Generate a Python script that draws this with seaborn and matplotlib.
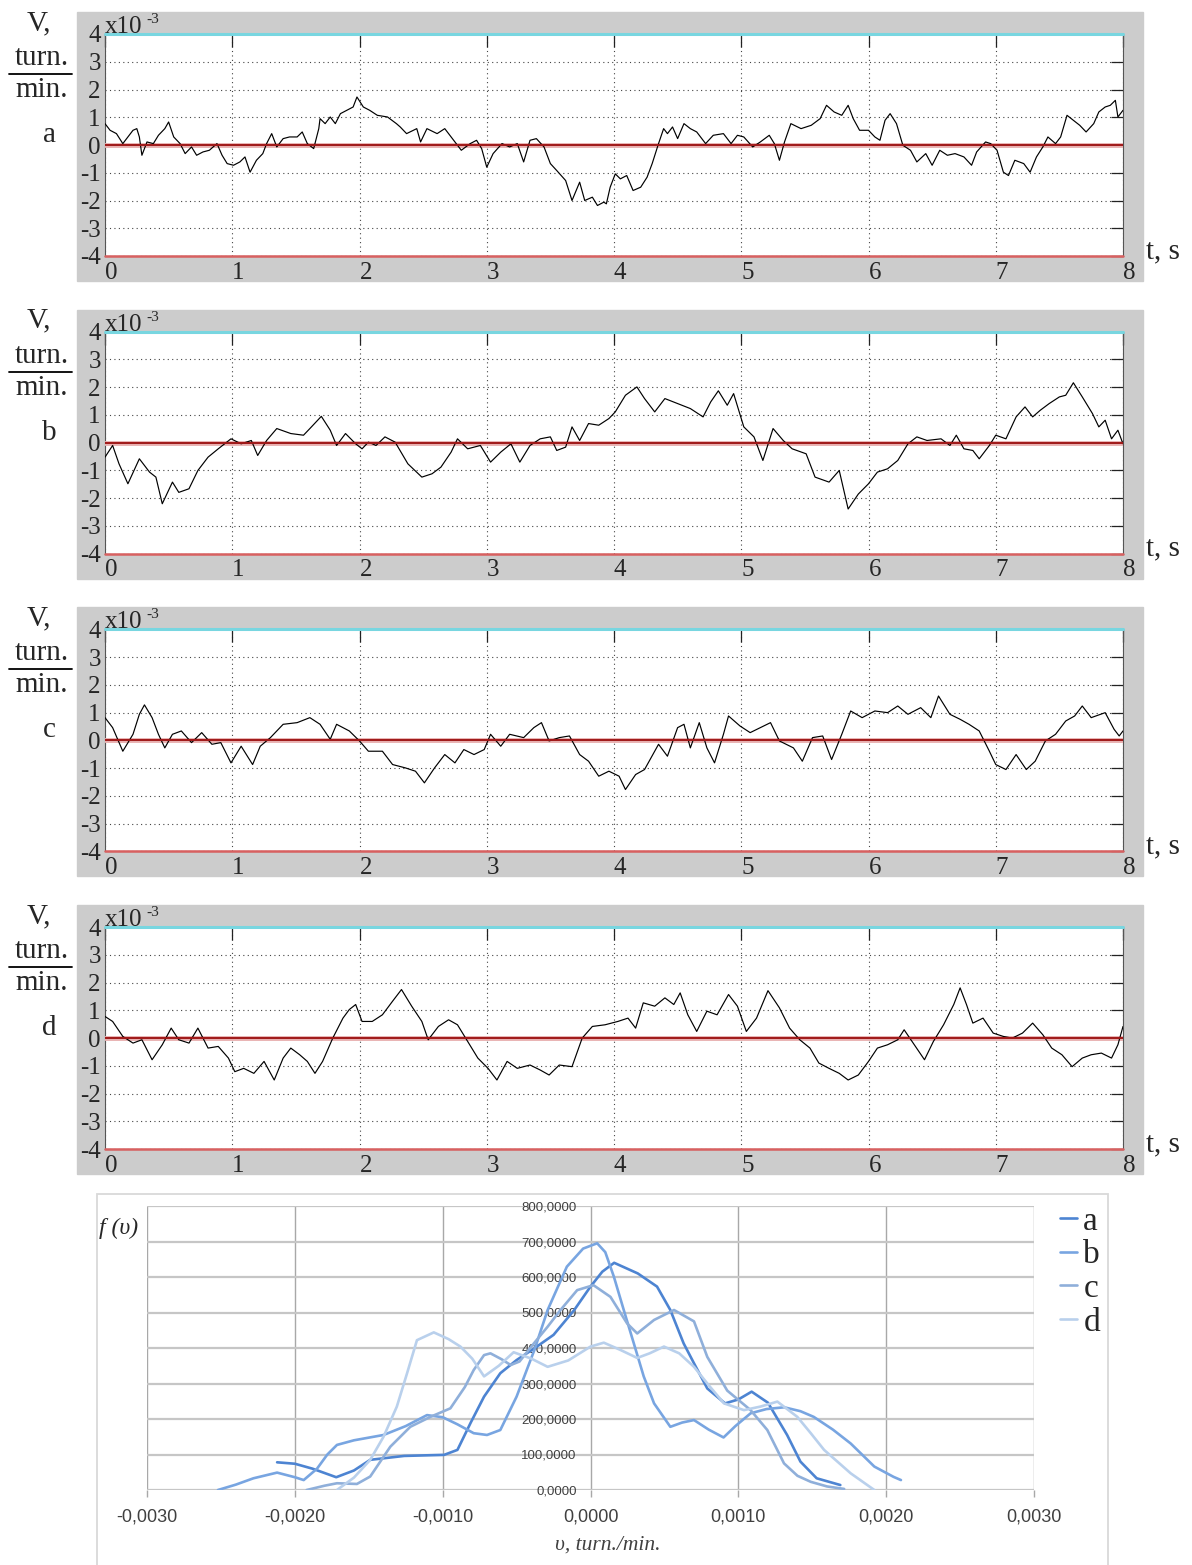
import numpy as np
import matplotlib
matplotlib.use("Agg")
import matplotlib.pyplot as plt
from matplotlib.lines import Line2D
from matplotlib.patches import Rectangle
from matplotlib.ticker import FuncFormatter
import seaborn as sns

# -------------------------
# Data
# -------------------------
# speed traces V(t), units of 1e-3 turn./min., t in s
trace_a = [(0.00, 0.77), (0.04, 0.53), (0.09, 0.41), (0.14, 0.05), (0.18, 0.29), (0.22, 0.53), (0.25, 0.59),
           (0.27, 0.29), (0.29, -0.37), (0.33, 0.11), (0.38, 0.05), (0.42, 0.35), (0.47, 0.59), (0.50, 0.83),
           (0.54, 0.29), (0.59, 0.05), (0.63, -0.31), (0.68, -0.07), (0.72, -0.37), (0.77, -0.25), (0.82, -0.19),
           (0.88, 0.05), (0.92, -0.37), (0.96, -0.67), (1.01, -0.73), (1.06, -0.61), (1.10, -0.43), (1.14, -0.98),
           (1.19, -0.55), (1.24, -0.31), (1.27, 0.05), (1.31, 0.41), (1.35, -0.07), (1.40, 0.23), (1.45, 0.29),
           (1.51, 0.29), (1.55, 0.47), (1.59, 0.05), (1.64, -0.13), (1.68, 0.59), (1.69, 0.95), (1.73, 0.77),
           (1.77, 1.01), (1.81, 0.77), (1.85, 1.13), (1.90, 1.25), (1.95, 1.37), (1.98, 1.73), (2.03, 1.37),
           (2.08, 1.25), (2.14, 1.07), (2.22, 1.01), (2.29, 0.77), (2.32, 0.65), (2.37, 0.41), (2.45, 0.59),
           (2.48, 0.11), (2.53, 0.59), (2.61, 0.41), (2.67, 0.59), (2.72, 0.29), (2.80, -0.19), (2.87, 0.05),
           (2.92, 0.17), (2.96, -0.13), (3.00, -0.80), (3.05, -0.31), (3.12, 0.05), (3.18, -0.07), (3.24, 0.05),
           (3.29, -0.61), (3.34, 0.17), (3.39, 0.23), (3.45, -0.07), (3.50, -0.67), (3.55, -0.92), (3.62, -1.28),
           (3.67, -2.00), (3.73, -1.34), (3.77, -2.00), (3.83, -1.88), (3.87, -2.18), (3.92, -2.06), (3.94, -2.12),
           (3.97, -1.52), (4.01, -1.04), (4.05, -1.22), (4.10, -1.10), (4.15, -1.64), (4.21, -1.52), (4.26, -1.16),
           (4.30, -0.67), (4.35, 0.05), (4.39, 0.59), (4.42, 0.41), (4.46, 0.65), (4.50, 0.23), (4.55, 0.77),
           (4.60, 0.59), (4.65, 0.47), (4.72, 0.05), (4.78, 0.35), (4.86, 0.41), (4.92, 0.05), (4.97, 0.35),
           (5.02, 0.29), (5.09, -0.07), (5.15, 0.11), (5.22, 0.35), (5.26, 0.05), (5.30, -0.55), (5.34, 0.11),
           (5.39, 0.77), (5.47, 0.59), (5.55, 0.71), (5.62, 0.95), (5.67, 1.43), (5.73, 1.19), (5.79, 1.07),
           (5.84, 1.43), (5.88, 0.95), (5.93, 0.53), (6.00, 0.53), (6.05, 0.29), (6.09, 0.17), (6.13, 0.89),
           (6.17, 1.13), (6.22, 0.77), (6.27, -0.01), (6.33, -0.19), (6.38, -0.61), (6.45, -0.31), (6.50, -0.73),
           (6.56, -0.19), (6.62, -0.37), (6.68, -0.31), (6.75, -0.43), (6.81, -0.73), (6.85, -0.25), (6.92, 0.11),
           (6.96, 0.05), (7.01, -0.19), (7.06, -0.98), (7.10, -1.10), (7.15, -0.55), (7.22, -0.67), (7.27, -0.98),
           (7.32, -0.43), (7.37, -0.07), (7.41, 0.29), (7.47, 0.05), (7.51, 0.29), (7.56, 1.07), (7.61, 0.89),
           (7.66, 0.71), (7.71, 0.47), (7.77, 0.77), (7.81, 1.19), (7.86, 1.37), (7.90, 1.43), (7.94, 1.61),
           (7.96, 1.01), (8.00, 1.25)]

trace_b = [(0.00, -0.52), (0.06, -0.10), (0.11, -0.76), (0.18, -1.48), (0.27, -0.58), (0.35, -1.06), (0.40, -1.24),
           (0.45, -2.20), (0.53, -1.42), (0.58, -1.79), (0.66, -1.66), (0.73, -1.00), (0.81, -0.52), (0.89, -0.22),
           (0.99, 0.14), (1.07, -0.04), (1.15, 0.08), (1.20, -0.46), (1.27, 0.08), (1.35, 0.51), (1.46, 0.33),
           (1.56, 0.27), (1.61, 0.51), (1.70, 0.95), (1.77, 0.45), (1.82, -0.10), (1.89, 0.33), (1.97, -0.04),
           (2.02, -0.22), (2.07, 0.02), (2.13, -0.10), (2.20, 0.21), (2.28, 0.02), (2.38, -0.76), (2.49, -1.24),
           (2.57, -1.12), (2.64, -0.88), (2.72, -0.34), (2.77, 0.14), (2.85, -0.22), (2.95, -0.10), (3.03, -0.70),
           (3.11, -0.34), (3.19, -0.04), (3.26, -0.70), (3.34, -0.10), (3.42, 0.14), (3.50, 0.21), (3.55, -0.28),
           (3.62, -0.16), (3.67, 0.57), (3.73, 0.08), (3.80, 0.69), (3.88, 0.63), (3.96, 0.87), (4.01, 1.11),
           (4.09, 1.71), (4.18, 2.01), (4.24, 1.59), (4.32, 1.11), (4.40, 1.59), (4.50, 1.41), (4.60, 1.23),
           (4.70, 0.93), (4.76, 1.47), (4.82, 1.87), (4.89, 1.35), (4.94, 1.77), (5.02, 0.57), (5.10, 0.21),
           (5.17, -0.64), (5.25, 0.51), (5.33, 0.08), (5.40, -0.22), (5.51, -0.40), (5.58, -1.24), (5.69, -1.42),
           (5.77, -1.00), (5.84, -2.39), (5.92, -1.85), (6.00, -1.48), (6.07, -1.06), (6.15, -0.94), (6.23, -0.64),
           (6.31, -0.04), (6.38, 0.21), (6.46, 0.08), (6.57, 0.14), (6.64, -0.10), (6.69, 0.27), (6.75, -0.22),
           (6.82, -0.28), (6.87, -0.58), (6.95, -0.10), (7.00, 0.27), (7.08, 0.14), (7.16, 0.93), (7.23, 1.29),
           (7.29, 0.93), (7.35, 1.17), (7.42, 1.41), (7.50, 1.65), (7.55, 1.71), (7.61, 2.16), (7.68, 1.65),
           (7.76, 1.05), (7.81, 0.57), (7.86, 0.81), (7.91, 0.14), (7.96, 0.45), (8.00, -0.04)]

trace_c = [(0.00, 0.82), (0.06, 0.46), (0.14, -0.39), (0.22, 0.22), (0.27, 0.94), (0.31, 1.28), (0.37, 0.82),
           (0.42, 0.22), (0.47, -0.27), (0.53, 0.22), (0.60, 0.34), (0.68, -0.08), (0.76, 0.28), (0.84, -0.14),
           (0.91, -0.08), (0.99, -0.81), (1.07, -0.21), (1.16, -0.87), (1.22, -0.21), (1.30, 0.10), (1.40, 0.58),
           (1.51, 0.64), (1.61, 0.82), (1.69, 0.58), (1.77, 0.04), (1.82, 0.58), (1.92, 0.34), (2.00, -0.02),
           (2.07, -0.39), (2.18, -0.39), (2.26, -0.87), (2.36, -0.99), (2.44, -1.11), (2.51, -1.53), (2.59, -0.99),
           (2.67, -0.51), (2.75, -0.81), (2.82, -0.33), (2.90, -0.51), (2.98, -0.33), (3.03, 0.22), (3.11, -0.21),
           (3.18, 0.22), (3.29, 0.10), (3.37, 0.46), (3.43, 0.64), (3.49, -0.02), (3.57, 0.10), (3.65, 0.16),
           (3.73, -0.51), (3.80, -0.75), (3.88, -1.29), (3.96, -1.11), (4.04, -1.29), (4.09, -1.77), (4.17, -1.23),
           (4.24, -1.05), (4.35, -0.14), (4.42, -0.57), (4.50, 0.46), (4.55, 0.58), (4.60, -0.27), (4.67, 0.64),
           (4.73, -0.27), (4.79, -0.81), (4.86, 0.22), (4.90, 0.88), (4.99, 0.52), (5.07, 0.28), (5.15, 0.46),
           (5.23, 0.64), (5.30, -0.02), (5.41, -0.27), (5.48, -0.75), (5.56, 0.10), (5.64, 0.16), (5.71, -0.69),
           (5.79, 0.22), (5.86, 1.06), (5.95, 0.82), (6.05, 1.06), (6.15, 1.00), (6.23, 1.24), (6.31, 0.94),
           (6.41, 1.18), (6.49, 0.82), (6.55, 1.60), (6.64, 0.94), (6.72, 0.76), (6.79, 0.58), (6.87, 0.34),
           (6.95, -0.39), (7.00, -0.87), (7.08, -1.05), (7.16, -0.51), (7.24, -1.05), (7.31, -0.75), (7.39, -0.02),
           (7.47, 0.22), (7.55, 0.70), (7.62, 0.88), (7.68, 1.24), (7.75, 0.82), (7.86, 1.00), (7.93, 0.40),
           (7.97, 0.16), (8.00, 0.34)]

trace_d = [(0.00, 0.78), (0.06, 0.60), (0.14, 0.06), (0.22, -0.18), (0.29, -0.06), (0.37, -0.78), (0.45, -0.24),
           (0.52, 0.36), (0.58, -0.06), (0.66, -0.18), (0.73, 0.36), (0.81, -0.36), (0.89, -0.30), (0.97, -0.72),
           (1.02, -1.21), (1.09, -1.09), (1.17, -1.27), (1.25, -0.84), (1.33, -1.51), (1.40, -0.72), (1.46, -0.36),
           (1.53, -0.60), (1.59, -0.84), (1.65, -1.27), (1.71, -0.84), (1.79, 0.00), (1.87, 0.72), (1.92, 1.03),
           (1.97, 1.21), (2.02, 0.60), (2.10, 0.60), (2.18, 0.84), (2.26, 1.33), (2.33, 1.75), (2.41, 1.15),
           (2.49, 0.60), (2.54, -0.06), (2.62, 0.42), (2.70, 0.66), (2.77, 0.48), (2.85, -0.12), (2.93, -0.72),
           (3.01, -1.09), (3.08, -1.51), (3.16, -0.84), (3.24, -1.09), (3.34, -0.97), (3.42, -1.15), (3.49, -1.33),
           (3.57, -0.97), (3.67, -1.03), (3.75, 0.00), (3.83, 0.42), (3.93, 0.48), (4.03, 0.60), (4.11, 0.72),
           (4.17, 0.36), (4.23, 1.27), (4.32, 1.15), (4.40, 1.45), (4.47, 1.21), (4.52, 1.63), (4.58, 0.84),
           (4.65, 0.24), (4.73, 0.97), (4.81, 0.84), (4.90, 1.57), (4.97, 1.15), (5.04, 0.24), (5.12, 0.72),
           (5.21, 1.71), (5.30, 1.09), (5.38, 0.36), (5.46, -0.06), (5.54, -0.36), (5.61, -0.90), (5.69, -1.09),
           (5.77, -1.27), (5.84, -1.51), (5.92, -1.33), (6.00, -0.84), (6.07, -0.36), (6.15, -0.24), (6.23, -0.06),
           (6.28, 0.30), (6.36, -0.24), (6.44, -0.78), (6.51, -0.12), (6.59, 0.48), (6.67, 1.21), (6.72, 1.81),
           (6.77, 1.21), (6.82, 0.54), (6.90, 0.72), (6.98, 0.18), (7.06, 0.06), (7.13, 0.00), (7.21, 0.18),
           (7.29, 0.54), (7.37, 0.12), (7.44, -0.36), (7.52, -0.60), (7.60, -1.03), (7.68, -0.72), (7.75, -0.60),
           (7.83, -0.54), (7.91, -0.72), (7.96, -0.24), (8.00, 0.42)]

# distribution f(v): v in units of 1e-3 turn./min.
dens_a = [(-2.12, 78), (-2.00, 74), (-1.88, 60), (-1.72, 36), (-1.60, 55), (-1.49, 85), (-1.26, 96), (-0.99, 99),
          (-0.90, 113), (-0.81, 190), (-0.72, 263), (-0.61, 329), (-0.50, 366), (-0.38, 399), (-0.25, 437),
          (-0.11, 507), (0.00, 573), (0.08, 615), (0.16, 640), (0.32, 610), (0.45, 573), (0.54, 507), (0.63, 413),
          (0.70, 357), (0.79, 286), (0.91, 244), (1.00, 255), (1.09, 277), (1.20, 246), (1.33, 155), (1.42, 80),
          (1.53, 33), (1.69, 14)]
dens_b = [(-2.52, 0), (-2.40, 15), (-2.28, 33), (-2.12, 49), (-2.00, 36), (-1.94, 28), (-1.85, 60), (-1.78, 100),
          (-1.715, 127), (-1.60, 140), (-1.40, 155), (-1.25, 180), (-1.106, 211), (-1.00, 205), (-0.90, 185),
          (-0.79, 160), (-0.70, 155), (-0.61, 169), (-0.50, 263), (-0.38, 394), (-0.29, 507), (-0.16, 629),
          (-0.05, 680), (0.045, 695), (0.10, 670), (0.158, 601), (0.23, 500), (0.293, 413), (0.36, 320), (0.43, 244),
          (0.54, 178), (0.62, 190), (0.70, 197), (0.80, 170), (0.90, 148), (0.98, 180), (1.083, 216), (1.19, 228),
          (1.31, 233), (1.42, 222), (1.51, 206), (1.64, 170), (1.76, 131), (1.92, 66), (2.05, 37), (2.10, 28)]
dens_c = [(-1.92, 0), (-1.80, 12), (-1.715, 19), (-1.58, 17), (-1.49, 38), (-1.354, 122), (-1.219, 178),
          (-1.083, 206), (-0.948, 230), (-0.85, 290), (-0.79, 338), (-0.72, 380), (-0.677, 385), (-0.60, 368),
          (-0.54, 352), (-0.48, 362), (-0.383, 413), (-0.29, 460), (-0.203, 507), (-0.09, 563), (0.02, 577),
          (0.135, 544), (0.248, 469), (0.316, 441), (0.43, 479), (0.565, 507), (0.70, 475), (0.79, 375), (0.925, 280),
          (1.083, 225), (1.196, 169), (1.309, 75), (1.40, 40), (1.49, 23), (1.60, 10), (1.716, 3)]
dens_d = [(-1.715, 0), (-1.60, 35), (-1.49, 85), (-1.40, 150), (-1.31, 235), (-1.24, 330), (-1.174, 422),
          (-1.06, 444), (-0.96, 425), (-0.88, 404), (-0.80, 370), (-0.72, 320), (-0.62, 350), (-0.52, 388),
          (-0.40, 370), (-0.29, 347), (-0.15, 365), (0.00, 404), (0.09, 415), (0.20, 395), (0.316, 372), (0.40, 385),
          (0.497, 404), (0.60, 385), (0.70, 347), (0.80, 295), (0.903, 244), (1.038, 225), (1.15, 235), (1.264, 249),
          (1.399, 206), (1.49, 160), (1.58, 113), (1.76, 47), (1.92, 0)]

panel_names = ["a", "b", "c", "d"]
dens_colors = ["#4d84d2", "#78a5e1", "#8fafda", "#b9d0ec"]
x_ticks_t = [0, 1, 2, 3, 4, 5, 6, 7, 8]
y_ticks_v = [-4, -3, -2, -1, 0, 1, 2, 3, 4]
x_ticks_f = [-0.003, -0.002, -0.001, 0.0, 0.001, 0.002, 0.003]
y_ticks_f = [0, 100, 200, 300, 400, 500, 600, 700, 800]

# -------------------------
# Figure setup
# -------------------------
sns.set_theme(style="white")
plt.rcParams["font.family"] = ["Liberation Serif", "DejaVu Serif"]
plt.rcParams["axes.unicode_minus"] = False

W, H = 1192, 1565
fig = plt.figure(figsize=(W / 100, H / 100), dpi=100)
fig.patch.set_facecolor("white")


def fx(p):
    return p / W


def fy(p):
    return 1 - p / H


# -------------------------
# Four time traces
# -------------------------
traces = [trace_a, trace_b, trace_c, trace_d]
for i, (name, tr) in enumerate(zip(panel_names, traces)):
    top = 34 + 297.7 * i
    bot = top + 222

    # grey frame behind the axes
    fig.add_artist(Rectangle((fx(77), fy(bot + 25)), 1066 / W, 269 / H,
                             transform=fig.transFigure, color="#cccccc", zorder=0))

    ax = fig.add_axes([fx(105), fy(bot), 1018 / W, 222 / H])
    ax.set_facecolor("white")
    t = [p[0] for p in tr]
    v = [p[1] for p in tr]
    sns.lineplot(x=t, y=v, ax=ax, color="black", linewidth=0.85,
                 estimator=None, sort=False, zorder=4)

    ax.axhline(0, color="#e8b0b0", lw=3.5, zorder=3)
    ax.axhline(0, color="#a01818", lw=1.4, zorder=5)
    ax.axhline(4, color="#78d6e0", lw=2.2, zorder=5, clip_on=False)
    ax.axhline(-4, color="#d86060", lw=1.8, zorder=5, clip_on=False)

    ax.set_xlim(0, 8)
    ax.set_ylim(-4, 4)
    ax.set_xticks(x_ticks_t)
    ax.set_yticks(y_ticks_v)
    ax.grid(True, linestyle=(0, (1, 3)), color="#444444", linewidth=0.8)
    ax.tick_params(direction="in", length=9, width=0.9, color="#222222",
                   top=True, right=True, labelsize=18, pad=3)
    ax.tick_params(axis="x", pad=4)
    for lbl in ax.get_xticklabels():
        lbl.set_horizontalalignment("left")
    for s in ax.spines.values():
        s.set_color("#555555")
        s.set_linewidth(0.8)
    ax.set_xlabel("")
    ax.set_ylabel("")

    fig.text(fx(105), fy(top - 1), "x10", fontsize=18, ha="left", va="baseline")
    fig.text(fx(146), fy(top - 11), "-3", fontsize=11, ha="left", va="baseline")

    # axis label at the left: V, turn./min. and panel letter
    fig.text(fx(39), fy(top - 11), "V,", fontsize=21, ha="center", va="center")
    fig.text(fx(42), fy(top + 24), "turn.", fontsize=21, ha="center", va="center")
    fig.add_artist(Line2D([fx(9), fx(72)], [fy(top + 40), fy(top + 40)],
                          transform=fig.transFigure, color="black", lw=1.3))
    fig.text(fx(42), fy(top + 56), "min.", fontsize=21, ha="center", va="center")
    fig.text(fx(49), fy(top + 101), name, fontsize=21, ha="center", va="center")

    fig.text(fx(1146), fy(bot - 5), "t, s", fontsize=21, ha="left", va="center")

# -------------------------
# Distribution chart
# -------------------------
fig.add_artist(Rectangle((fx(97), fy(1566)), (1108 - 97) / W, (1566 - 1194) / H,
                         transform=fig.transFigure, fill=False,
                         edgecolor="#d9d9d9", lw=1.3))

ax2 = fig.add_axes([fx(147), fy(1490), 887 / W, 284 / H])
ax2.set_facecolor("white")
for dens, name, col in zip([dens_a, dens_b, dens_c, dens_d], panel_names, dens_colors):
    xs = np.array([p[0] for p in dens]) * 1e-3
    ys = [p[1] for p in dens]
    sns.lineplot(x=xs, y=ys, ax=ax2, color=col, linewidth=1.9,
                 estimator=None, sort=False, label=name, zorder=3)

ax2.set_xlim(-0.003, 0.003)
ax2.set_ylim(0, 800)
ax2.set_xticks(x_ticks_f)
ax2.set_yticks(y_ticks_f)
ax2.set_axisbelow(True)
ax2.yaxis.grid(True, color="#c6c6c6", linewidth=1.6)
ax2.xaxis.grid(True, color="#a8a8a8", linewidth=1.0)
for s in ax2.spines.values():
    s.set_visible(False)
ax2.spines["left"].set_position(("data", 0))


def comma_fmt(val, pos):
    if abs(val) < 1e-12:
        val = 0.0
    return f"{val:.4f}".replace(".", ",")


ax2.xaxis.set_major_formatter(FuncFormatter(comma_fmt))
ax2.yaxis.set_major_formatter(FuncFormatter(comma_fmt))
ax2.tick_params(axis="y", length=0, pad=10, labelsize=9.5, labelcolor="#404040")
ax2.tick_params(axis="x", direction="out", length=5, width=1.0, color="#a8a8a8",
                pad=8, labelsize=13, labelcolor="#404040", bottom=True)
for lbl in ax2.get_xticklabels() + ax2.get_yticklabels():
    lbl.set_family(["Liberation Sans", "DejaVu Sans"])
ax2.set_xlabel("")
ax2.set_ylabel("")

ax2.legend(loc="upper left", bbox_to_anchor=(fx(1060), fy(1206)),
           bbox_transform=fig.transFigure, frameon=False, fontsize=24,
           handlelength=0.5, handletextpad=0.2, labelspacing=0.1,
           borderpad=0, borderaxespad=0, labelcolor="#262626")

fig.text(fx(99), fy(1228), "f (υ)", fontsize=17, style="italic", ha="left", va="center")
fig.text(fx(608), fy(1545), "υ, turn./min.", fontsize=15.5, style="italic",
         color="#404040", ha="center", va="center")

plt.savefig("out.png", dpi=100)
plt.close()
